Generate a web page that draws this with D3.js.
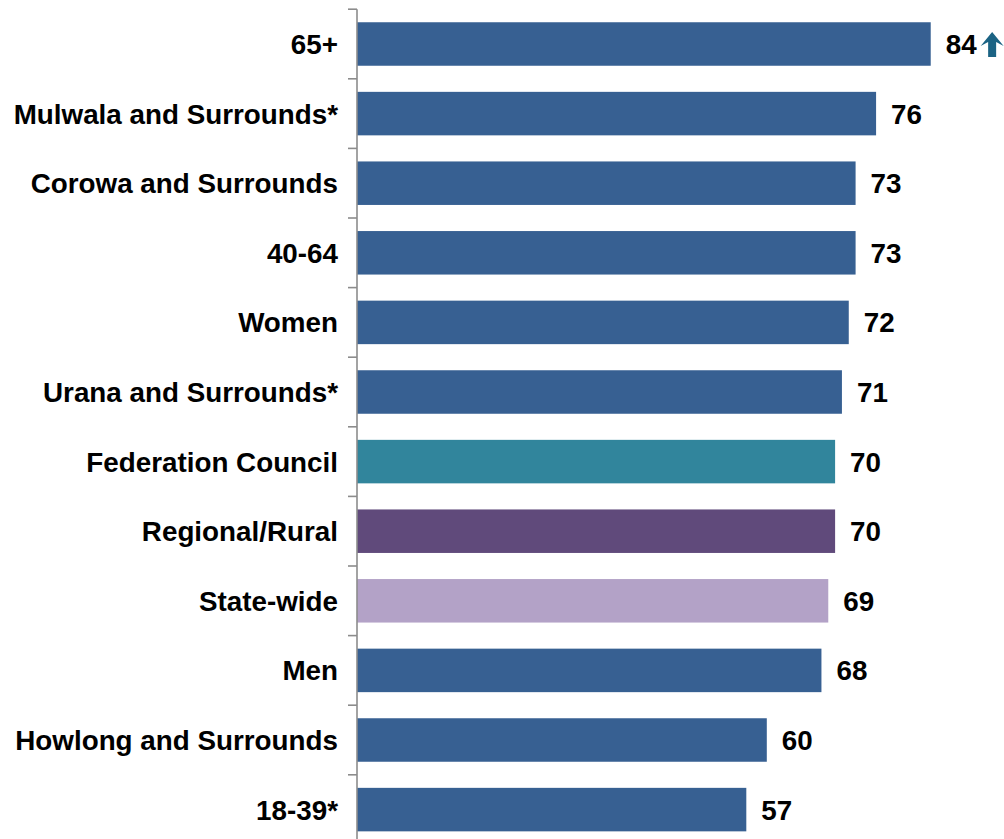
<!DOCTYPE html>
<html>
<head>
<meta charset="utf-8">
<script src="https://cdn.jsdelivr.net/npm/d3@7"></script>
<style>
  html, body { margin: 0; padding: 0; background: #fff; }
  svg { display: block; }
  text { font-family: "Liberation Sans", Arial, sans-serif; font-weight: bold; fill: #000; }
</style>
</head>
<body>
<svg id="chart" width="1004" height="839"></svg>
<script>
// Index scores by segment, top to bottom
const categories = [
  "65+", "Mulwala and Surrounds*", "Corowa and Surrounds", "40-64", "Women",
  "Urana and Surrounds*", "Federation Council", "Regional/Rural", "State-wide",
  "Men", "Howlong and Surrounds", "18-39*"
];
const values = [84, 76, 73, 73, 72, 71, 70, 70, 69, 68, 60, 57];
// Segment kind drives the bar colour
const kinds = [
  "segment", "segment", "segment", "segment", "segment", "segment",
  "council", "group", "state", "segment", "segment", "segment"
];
// Segments significantly higher than the council result
const significantlyHigher = ["65+"];

const palette = {
  segment: "#376092",
  council: "#31859C",
  group: "#604A7B",
  state: "#B3A2C7"
};

const width = 1004, height = 839;
const axisX = 357;
const svg = d3.select("#chart");

const x = d3.scaleLinear().domain([0, 100]).range([axisX, axisX + 683]);
const y = d3.scaleBand()
  .domain(categories)
  .range([9.2, 844.4])
  .paddingInner(0.375)
  .paddingOuter(0.1875);

const rows = categories.map((c, i) => ({ cat: c, val: values[i], kind: kinds[i] }));

// Bars
svg.append("g")
  .selectAll("rect")
  .data(rows)
  .join("rect")
  .attr("x", x(0))
  .attr("y", d => y(d.cat))
  .attr("width", d => x(d.val) - x(0))
  .attr("height", y.bandwidth())
  .attr("fill", d => palette[d.kind]);

// Category axis: vertical line with ticks between bands
const axis = svg.append("g").attr("stroke", "#8c8c8c").attr("stroke-width", 1.6);
axis.append("line")
  .attr("x1", axisX).attr("x2", axisX)
  .attr("y1", y.range()[0]).attr("y2", height);
categories.forEach((c, i) => {
  const b = y.range()[0] + i * y.step();
  axis.append("line")
    .attr("x1", axisX - 9).attr("x2", axisX)
    .attr("y1", b).attr("y2", b);
});

// Category labels
svg.append("g")
  .selectAll("text")
  .data(rows)
  .join("text")
  .attr("x", axisX - 19)
  .attr("y", d => y(d.cat) + y.bandwidth() / 2)
  .attr("dy", "0.36em")
  .attr("text-anchor", "end")
  .style("font-size", "27.8px")
  .text(d => d.cat);

// Value labels
const valueLabels = svg.append("g")
  .selectAll("text")
  .data(rows)
  .join("text")
  .attr("x", d => x(d.val) + 15)
  .attr("y", d => y(d.cat) + y.bandwidth() / 2)
  .attr("dy", "0.36em")
  .style("font-size", "27.8px")
  .text(d => d.val);

// Up arrow marking a significantly higher result
valueLabels.each(function (d) {
  if (!significantlyHigher.includes(d.cat)) return;
  const x0 = x(d.val) + 15 + this.getComputedTextLength() + 4;
  const cy = y(d.cat) + y.bandwidth() / 2;
  const w = 23, top = cy - 12, headBottom = top + 14, bottom = cy + 13, stem = 8;
  const mid = x0 + w / 2;
  svg.append("path")
    .attr("fill", "#1b6384")
    .attr("d", `M${mid},${top} L${x0 + w},${headBottom} L${mid + stem / 2},${headBottom - 4} L${mid + stem / 2},${bottom} L${mid - stem / 2},${bottom} L${mid - stem / 2},${headBottom - 4} L${x0},${headBottom} Z`);
});
</script>
</body>
</html>
